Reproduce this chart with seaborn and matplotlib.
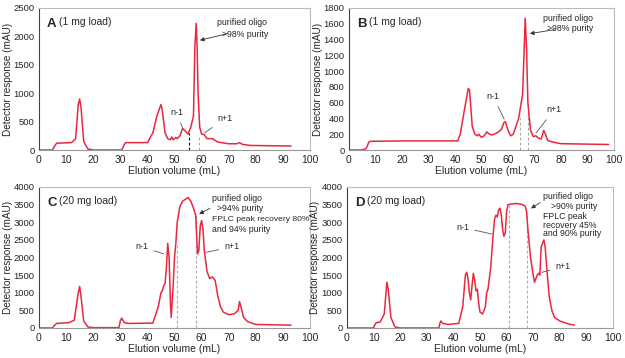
import matplotlib
matplotlib.use("Agg")
import matplotlib.pyplot as plt
import seaborn as sns
import pandas as pd

# ---- data (elution volume mL, response mAU) ----
a_x = [0, 5, 5.5, 6.5, 12, 13.5, 14.5, 15, 15.5, 16.5, 18, 20, 30.5, 31.5, 32, 40, 42, 43.5, 45,
       45.5, 46.5, 47.5, 48.5, 49, 49.5, 50.5, 51, 52, 53, 54, 55, 56, 57, 57.5, 58, 58.3, 58.7,
       59.3, 60, 61, 62, 64, 66, 70, 73, 74, 75, 78, 93]
a_y = [0, 0, 50, 120, 130, 200, 800, 900, 750, 150, 20, 0, 0, 100, 130, 130, 300, 600, 800,
       700, 300, 200, 180, 230, 180, 220, 200, 250, 380, 330, 280, 400, 600, 1800, 2230, 1900, 1000,
       400, 280, 270, 200, 200, 140, 110, 110, 130, 100, 80, 70]

b_x = [0, 5, 6.5, 7, 7.5, 8, 20, 41, 42, 43.5, 45, 45.5, 46.5, 47.5, 48.5, 49, 50, 51, 52, 53,
       54, 56, 57.5, 58.5, 59, 60, 61, 62, 64, 65.5, 66.5, 67, 67.5, 68.5, 69.5, 70.5, 71.5, 72.5,
       73.5, 74, 75, 77, 80, 98]
b_y = [0, 0, 20, 60, 100, 110, 115, 115, 200, 500, 780, 760, 300, 200, 180, 200, 160, 180, 230,
       200, 190, 220, 260, 350, 360, 250, 180, 200, 400, 700, 1670, 1300, 600, 250, 170, 180, 150,
       140, 250, 210, 120, 100, 80, 70]

c_x = [0, 5, 5.5, 6.5, 11, 13, 14.5, 15, 15.5, 16.5, 18, 20, 29.5, 30, 30.5, 31.5, 33, 42, 44,
       45, 45.5, 46, 46.5, 47, 47.5, 48, 48.5, 48.8, 49.5, 50, 50.5, 51, 52, 53, 55, 56, 57, 57.8,
       58.5, 59, 59.5, 60, 60.5, 61, 62, 63, 64, 65, 66, 67, 68, 70, 72, 73.5, 74, 74.5, 75.5, 77,
       80, 93]
c_y = [0, 0, 60, 130, 150, 220, 1000, 1180, 900, 200, 30, 10, 10, 200, 280, 150, 130, 140, 600,
       1000, 1050, 1200, 1250, 1700, 2400, 2000, 700, 300, 1200, 2000, 2400, 3000, 3450, 3600, 3700,
       3600, 3400, 3200, 2100, 2200, 2900, 3050, 2800, 2200, 1600, 1400, 1450, 1350, 900, 600, 450,
       380, 400, 500, 750, 600, 300, 180, 100, 80]

d_x = [0, 10, 10.5, 11, 12.5, 14, 15, 15.5, 16.5, 18, 20, 34.5, 35, 35.3, 36, 38, 42, 43.5, 44.5,
       45, 45.5, 46, 46.5, 47, 47.5, 48, 48.5, 49, 49.5, 50, 51, 52, 52.5, 53, 54, 55, 55.5, 56,
       56.5, 57, 57.5, 58, 58.5, 59, 59.5, 60, 60.5, 62, 64, 66, 67, 67.5, 68, 69, 70, 70.5, 71.5,
       72, 72.5, 73, 73.5, 74, 74.5, 75, 76, 77, 78, 80, 83, 85.5]
d_y = [0, 0, 100, 150, 170, 400, 1300, 1100, 300, 30, 0, 0, 150, 200, 130, 100, 130, 600, 1500,
       1580, 1400, 1000, 800, 1200, 1550, 1350, 1050, 1100, 700, 450, 400, 600, 1000, 1100, 1700,
       2700, 3100, 3200, 3150, 3350, 3400, 3200, 2800, 2600, 2700, 3300, 3500, 3520, 3530, 3500,
       3450, 3300, 2800, 2000, 1500, 1300, 1500, 1550, 1500, 2300, 2400, 2500, 2300, 1800, 900,
       500, 300, 200, 120, 80]

# fraction cut lines (x, height, colour)
a_cuts = [(55.3, 300, "black"), (59.2, 260, "#aaaaaa")]
b_cuts = [(64.7, 420, "#aaaaaa"), (67.7, 500, "#aaaaaa")]
c_cuts = [(50.8, 2350, "#aaaaaa"), (57.8, 3200, "#aaaaaa")]
d_cuts = [(61.0, 3500, "#aaaaaa"), (67.5, 3300, "#aaaaaa")]

RED = "#e8283f"
FONT = ["Liberation Sans Narrow", "Liberation Sans", "DejaVu Sans"]

sns.set_style("white")
plt.rcParams["font.family"] = FONT
plt.rcParams["font.size"] = 7

fig = plt.figure(figsize=(6.25, 3.58), dpi=100)
# axes box + x position of the y label (axes coords)
boxes = {
    "A": ([0.0624, 0.581, 0.4336, 0.3967], -0.097),
    "B": ([0.5584, 0.581, 0.4240, 0.3967], -0.099),
    "C": ([0.0624, 0.0838, 0.4336, 0.3939], -0.097),
    "D": ([0.5552, 0.0838, 0.4256, 0.3939], -0.102),
}


def panel(key, xs, ys, cuts, ymax, ystep, load):
    box, ylab_x = boxes[key]
    ax = fig.add_axes(box)
    df = pd.DataFrame({"vol": xs, "resp": ys})
    for cx, ch, cc in cuts:
        ax.plot([cx, cx], [0, ch], color=cc, lw=0.8, ls=(0, (2.5, 2)), zorder=1)
    sns.lineplot(data=df, x="vol", y="resp", color=RED, lw=1.1, estimator=None,
                 sort=False, ax=ax, zorder=2)
    ax.set_xlim(0, 100)
    ax.set_ylim(0, ymax)
    ax.set_xticks(range(0, 101, 10))
    ax.set_yticks(range(0, ymax + 1, ystep))
    ax.set_xlabel("Elution volume (mL)", fontsize=7.5, labelpad=1)
    ax.set_ylabel("Detector response (mAU)", fontsize=7.2)
    ax.yaxis.set_label_coords(ylab_x, 0.5)
    ax.tick_params(axis="x", labelsize=7.5, length=2, width=0.6, pad=1.5)
    ax.tick_params(axis="y", labelsize=6.8, length=2, width=0.6, pad=1.2)
    for s in ["top", "right"]:
        ax.spines[s].set_color("#bbbbbb")
        ax.spines[s].set_linewidth(0.8)
    ax.spines["bottom"].set_color("#999999")
    ax.spines["left"].set_color("#444444")
    ax.spines["bottom"].set_linewidth(0.8)
    ax.spines["left"].set_linewidth(0.8)
    ax.text(0.03, 0.93, key, transform=ax.transAxes, fontsize=9.5, fontweight="bold",
            va="top", ha="left")
    ax.text(0.075, 0.935, load, transform=ax.transAxes, fontsize=7.5, va="top", ha="left")
    return ax


def note(ax, text, xy, xytext, ha="left", arrow=False):
    props = dict(arrowstyle="-|>", color="#333333", lw=0.6, mutation_scale=6) if arrow \
        else dict(arrowstyle="-", color="#555555", lw=0.6)
    ax.annotate(text, xy=xy, xytext=xytext, fontsize=6.5, ha=ha, va="center",
                arrowprops=props)


ax = panel("A", a_x, a_y, a_cuts, 2500, 500, "(1 mg load)")
note(ax, "", (58.4, 1920), (70.5, 2060), arrow=True)
ax.text(75, 2250, "purified oligo", fontsize=6.3, ha="center", va="center")
ax.text(76, 2040, ">98% purity", fontsize=6.3, ha="center", va="center")
note(ax, "n-1", (53.3, 340), (48.5, 660))
note(ax, "n+1", (60.2, 270), (66, 560))

ax = panel("B", b_x, b_y, b_cuts, 1800, 200, "(1 mg load)")
note(ax, "", (67.2, 1470), (78.5, 1530), arrow=True)
ax.text(82.5, 1670, "purified oligo", fontsize=6.3, ha="center", va="center")
ax.text(83.5, 1545, ">98% purity", fontsize=6.3, ha="center", va="center")
note(ax, "n-1", (59, 360), (52, 680))
note(ax, "n+1", (70, 190), (74.5, 510))

ax = panel("C", c_x, c_y, c_cuts, 4000, 500, "(20 mg load)")
note(ax, "", (58.2, 3200), (64, 3430), arrow=True)
ax.text(64, 3660, "purified oligo", fontsize=6.3, ha="left", va="center")
ax.text(65.5, 3390, ">94% purity", fontsize=6.3, ha="left", va="center")
ax.text(64, 3070, "FPLC peak recovery 80%", fontsize=6.1, ha="left", va="center")
ax.text(64, 2790, "and 94% purity", fontsize=6.3, ha="left", va="center")
note(ax, "n-1", (47, 2080), (35.5, 2300))
note(ax, "n+1", (60.5, 2130), (68.5, 2300))

ax = panel("D", d_x, d_y, d_cuts, 4000, 500, "(20 mg load)")
note(ax, "", (68.3, 3350), (73.5, 3600), arrow=True)
ax.text(73.8, 3720, "purified oligo", fontsize=6.3, ha="left", va="center")
ax.text(76.8, 3440, ">90% purity", fontsize=6.3, ha="left", va="center")
ax.text(73.8, 3170, "FPLC peak", fontsize=6.3, ha="left", va="center")
ax.text(73.8, 2920, "recovery 45%", fontsize=6.3, ha="left", va="center")
ax.text(73.8, 2670, "and 90% purity", fontsize=6.3, ha="left", va="center")
note(ax, "n-1", (55.4, 2650), (41, 2850))
note(ax, "n+1", (72.3, 1560), (78.5, 1740))

fig.savefig("out.png", dpi=100)
